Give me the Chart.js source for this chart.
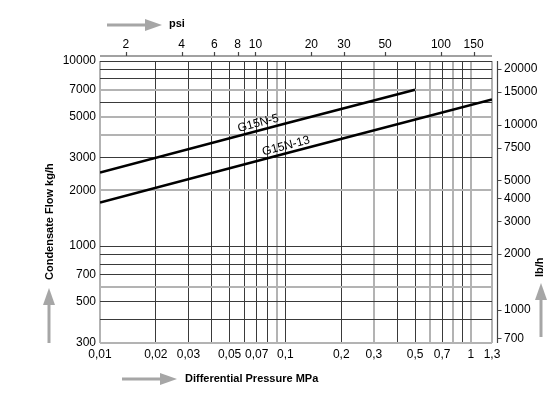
<!DOCTYPE html>
<html>
<head>
<meta charset="utf-8">
<script src="https://cdn.jsdelivr.net/npm/chart.js@4.4.1/dist/chart.umd.min.js"></script>
<style>
  html, body { margin: 0; padding: 0; background: #fff; }
  #wrap { width: 550px; height: 401px; }
</style>
</head>
<body>
<div id="wrap"><canvas id="grafico"></canvas></div>
<script>
// Pressão diferencial (MPa) e vazão (kg/h)
const g15n5X = [0.01, 0.1, 0.5];
const g15n5Y = [2500, 4600, 7000];
const g15n13X = [0.01, 0.1, 1.3];
const g15n13Y = [1720, 3170, 6200];

// Eixos
const xGrid = [0.01, 0.02, 0.03, 0.04, 0.05, 0.06, 0.07, 0.08, 0.09, 0.1, 0.2, 0.3, 0.4, 0.5, 0.6, 0.7, 0.8, 0.9, 1, 1.3];
const xLabels = [0.01, 0.02, 0.03, 0.05, 0.07, 0.1, 0.2, 0.3, 0.5, 0.7, 1, 1.3];
const xGray = [0.01, 0.09, 0.3, 0.6, 0.8, 1, 1.3];
const yGrid = [300, 400, 500, 600, 700, 800, 900, 1000, 2000, 3000, 4000, 5000, 6000, 7000, 8000, 9000, 10000];
const yLabels = [300, 500, 700, 1000, 2000, 3000, 5000, 7000, 10000];
const yGray = [300, 600, 2000, 4000, 5000, 7000];
const psiTicks = [2, 4, 6, 8, 10, 20, 30, 50, 100, 150];
const lbTicks = [700, 1000, 2000, 3000, 4000, 5000, 7500, 10000, 15000, 20000];

const PSI_POR_MPA = 145.038;
const LB_POR_KG = 2.20462;

const FONTE = '"Liberation Sans", Arial, Helvetica, sans-serif';
const CINZA = '#b3b3b3';
const ESCURO = '#3a3a3a';

function pontos(xs, ys) {
    return xs.map((x, i) => ({ x: x, y: ys[i] }));
}

function fixarTicks(valores) {
    return scale => { scale.ticks = valores.map(v => ({ value: v })); };
}

// Setas, títulos e eixos deslocados (psi e lb/h)
const extras = {
    id: 'extras',
    afterDraw(chart) {
        const ctx = chart.ctx;
        const area = chart.chartArea;
        const xs = chart.scales.x;
        const ys = chart.scales.y;
        const psi = chart.scales.psi;
        const lb = chart.scales.lb;
        ctx.save();

        // eixo psi no topo
        const yTopo = area.top - 5;
        ctx.strokeStyle = '#444';
        ctx.lineWidth = 1.2;
        ctx.beginPath();
        ctx.moveTo(area.left, yTopo);
        ctx.lineTo(area.right, yTopo);
        psiTicks.forEach(v => {
            const px = Math.round(psi.getPixelForValue(v)) + 0.5;
            ctx.moveTo(px, yTopo);
            ctx.lineTo(px, yTopo - 4);
        });
        ctx.stroke();

        // eixo lb/h à direita
        const xDir = area.right + 5.5;
        ctx.beginPath();
        ctx.moveTo(xDir, area.top);
        ctx.lineTo(xDir, area.bottom);
        lbTicks.forEach(v => {
            const py = Math.round(lb.getPixelForValue(v)) + 0.5;
            ctx.moveTo(xDir, py);
            ctx.lineTo(xDir + 4, py);
        });
        ctx.stroke();

        // setas cinzas
        function seta(x1, y1, x2, y2) {
            const ang = Math.atan2(y2 - y1, x2 - x1);
            const cab = 17;
            const bx = x2 - cab * Math.cos(ang);
            const by = y2 - cab * Math.sin(ang);
            ctx.strokeStyle = '#a6a6a6';
            ctx.fillStyle = '#a6a6a6';
            ctx.lineWidth = 3;
            ctx.beginPath();
            ctx.moveTo(x1, y1);
            ctx.lineTo(bx, by);
            ctx.stroke();
            ctx.beginPath();
            ctx.moveTo(x2, y2);
            ctx.lineTo(bx + 6 * Math.sin(ang), by - 6 * Math.cos(ang));
            ctx.lineTo(bx - 6 * Math.sin(ang), by + 6 * Math.cos(ang));
            ctx.closePath();
            ctx.fill();
        }
        seta(107, 25, 162, 25);
        seta(122, 379, 177, 379);
        seta(49, 343, 49, 288);
        seta(541, 337, 541, 283);

        // títulos
        ctx.fillStyle = '#000';
        ctx.font = 'bold 11px ' + FONTE;
        ctx.textBaseline = 'middle';
        ctx.textAlign = 'left';
        ctx.fillText('psi', 169, 24);
        ctx.fillText('Differential Pressure MPa', 185, 379);
        ctx.save();
        ctx.translate(50, 280);
        ctx.rotate(-Math.PI / 2);
        ctx.fillText('Condensate Flow kg/h', 0, 0);
        ctx.restore();
        ctx.save();
        ctx.translate(540, 277);
        ctx.rotate(-Math.PI / 2);
        ctx.fillText('lb/h', 0, 0);
        ctx.restore();

        // rótulos das curvas
        ctx.font = '12px ' + FONTE;
        ctx.textAlign = 'center';
        ctx.textBaseline = 'alphabetic';
        function rotulo(texto, xs0, ys0, xv) {
            const x1 = xs.getPixelForValue(xs0[0]);
            const y1 = ys.getPixelForValue(ys0[0]);
            const x2 = xs.getPixelForValue(xs0[xs0.length - 1]);
            const y2 = ys.getPixelForValue(ys0[ys0.length - 1]);
            const ang = Math.atan2(y2 - y1, x2 - x1);
            const px = xs.getPixelForValue(xv);
            const py = y1 + (px - x1) * Math.tan(ang);
            ctx.save();
            ctx.translate(px, py);
            ctx.rotate(ang);
            ctx.fillText(texto, 0, -4);
            ctx.restore();
        }
        rotulo('G15N-5', g15n5X, g15n5Y, 0.073);
        rotulo('G15N-13', g15n13X, g15n13Y, 0.103);

        ctx.restore();
    }
};

const grafCtx = document.getElementById('grafico').getContext('2d');
const grafico = new Chart(grafCtx, {
    type: 'line',
    data: {
        datasets: [{
            label: 'G15N-5',
            data: pontos(g15n5X, g15n5Y),
            borderColor: '#000',
            borderWidth: 2.6,
            pointRadius: 0,
            fill: false
        }, {
            label: 'G15N-13',
            data: pontos(g15n13X, g15n13Y),
            borderColor: '#000',
            borderWidth: 2.6,
            pointRadius: 0,
            fill: false
        }]
    },
    options: {
        responsive: true,
        maintainAspectRatio: false,
        animation: false,
        layout: { padding: 0 },
        plugins: {
            legend: { display: false },
            tooltip: { enabled: false }
        },
        scales: {
            x: {
                type: 'logarithmic',
                position: 'bottom',
                min: 0.01,
                max: 1.3,
                afterBuildTicks: fixarTicks(xGrid),
                afterFit: scale => { scale.height = 58; },
                border: { display: false },
                grid: {
                    drawTicks: false,
                    color: c => xGray.includes(c.tick.value) ? CINZA : ESCURO,
                    lineWidth: c => xGray.includes(c.tick.value) ? 2 : 1
                },
                ticks: {
                    autoSkip: false,
                    maxRotation: 0,
                    padding: 4,
                    color: '#000',
                    font: { family: FONTE, size: 12 },
                    callback: v => xLabels.includes(v) ? String(v).replace('.', ',') : ''
                }
            },
            psi: {
                type: 'logarithmic',
                position: 'top',
                min: 0.01 * PSI_POR_MPA,
                max: 1.3 * PSI_POR_MPA,
                afterBuildTicks: fixarTicks(psiTicks),
                afterFit: scale => { scale.height = 61; },
                border: { display: false },
                grid: { display: false, drawTicks: false },
                ticks: {
                    autoSkip: false,
                    maxRotation: 0,
                    padding: 9,
                    color: '#000',
                    font: { family: FONTE, size: 12 },
                    callback: v => String(v)
                }
            },
            y: {
                type: 'logarithmic',
                position: 'left',
                min: 300,
                max: 10000,
                afterBuildTicks: fixarTicks(yGrid),
                afterFit: scale => { scale.width = 100; },
                border: { display: false },
                grid: {
                    drawTicks: false,
                    color: c => yGray.includes(c.tick.value) ? CINZA : ESCURO,
                    lineWidth: c => yGray.includes(c.tick.value) ? 2 : 1
                },
                ticks: {
                    autoSkip: false,
                    padding: 4,
                    color: '#000',
                    font: { family: FONTE, size: 12 },
                    callback: v => yLabels.includes(v) ? String(v) : ''
                }
            },
            lb: {
                type: 'logarithmic',
                position: 'right',
                min: 300 * LB_POR_KG,
                max: 10000 * LB_POR_KG,
                afterBuildTicks: fixarTicks(lbTicks),
                afterFit: scale => { scale.width = 58; },
                border: { display: false },
                grid: { display: false, drawTicks: false },
                ticks: {
                    autoSkip: false,
                    padding: 12,
                    color: '#000',
                    font: { family: FONTE, size: 12 },
                    callback: v => String(v)
                }
            }
        }
    },
    plugins: [extras]
});
</script>
</body>
</html>
